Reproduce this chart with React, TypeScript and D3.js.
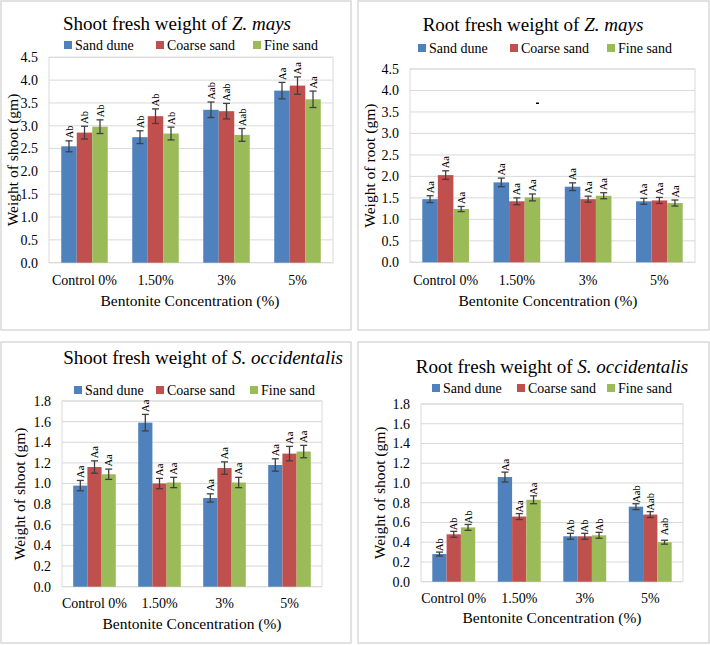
import React from "react";
import * as d3 from "d3";

const categories = ["Control 0%", "1.50%", "3%", "5%"];
const seriesNames = ["Sand dune", "Coarse sand", "Fine sand"];
const colors = ["#4F81BD", "#C0504D", "#9BBB59"];

// Panel 1: Shoot fresh weight of Z. mays
const zmShootSand = [2.55, 2.75, 3.35, 3.77];
const zmShootCoarse = [2.85, 3.21, 3.32, 3.88];
const zmShootFine = [2.98, 2.83, 2.8, 3.58];
const zmShootErr = [
  [0.12, 0.14, 0.17, 0.18],
  [0.14, 0.16, 0.17, 0.19],
  [0.15, 0.14, 0.14, 0.18],
];
const zmShootLabels = [
  ["Ab", "Ab", "Aab", "Aa"],
  ["Ab", "Ab", "Aab", "Aa"],
  ["Ab", "Ab", "Aab", "Aa"],
];

// Panel 2: Root fresh weight of Z. mays
const zmRootSand = [1.47, 1.86, 1.76, 1.42];
const zmRootCoarse = [2.03, 1.42, 1.47, 1.44];
const zmRootFine = [1.24, 1.51, 1.55, 1.38];
const zmRootErr = [
  [0.08, 0.1, 0.09, 0.07],
  [0.1, 0.08, 0.07, 0.07],
  [0.06, 0.08, 0.07, 0.07],
];
const zmRootLabels = [
  ["Aa", "Aa", "Aa", "Aa"],
  ["Aa", "Aa", "Aa", "Aa"],
  ["Aa", "Aa", "Aa", "Aa"],
];

// Panel 3: Shoot fresh weight of S. occidentalis
const soShootSand = [0.98, 1.59, 0.86, 1.18];
const soShootCoarse = [1.16, 1.0, 1.15, 1.29];
const soShootFine = [1.09, 1.01, 1.01, 1.31];
const soShootErr = [
  [0.05, 0.08, 0.04, 0.06],
  [0.06, 0.05, 0.06, 0.07],
  [0.05, 0.05, 0.05, 0.06],
];
const soShootLabels = [
  ["Aa", "Aa", "Aa", "Aa"],
  ["Aa", "Aa", "Aa", "Aa"],
  ["Aa", "Aa", "Aa", "Aa"],
];

// Panel 4: Root fresh weight of S. occidentalis
const soRootSand = [0.28, 1.06, 0.46, 0.76];
const soRootCoarse = [0.48, 0.66, 0.46, 0.68];
const soRootFine = [0.55, 0.83, 0.47, 0.4];
const soRootErr = [
  [0.02, 0.05, 0.03, 0.03],
  [0.03, 0.03, 0.03, 0.03],
  [0.03, 0.04, 0.03, 0.02],
];
const soRootLabels = [
  ["Ab", "Aa", "Ab", "Aab"],
  ["Ab", "Aa", "Ab", "Aab"],
  ["Ab", "Aa", "Ab", "Aab"],
];

const xTitle = "Bentonite Concentration (%)";
const FONT = "'Liberation Serif', 'Times New Roman', Times, serif";
const txt = { fontFamily: FONT };

type PanelProps = {
  frame: [number, number, number, number];
  plot: [number, number, number, number];
  yMax: number;
  yStep: number;
  titleA: string;
  titleB: string;
  titleX: number;
  titleY: number;
  legendY: number;
  legendX: number[];
  yTitle: string;
  yTitleX: number;
  xLabelY: number;
  xTitleX: number;
  xTitleY: number;
  series: number[][];
  errs: number[][];
  labels: string[][];
  labelGap?: number[][];
  extra?: React.ReactNode;
};

function Panel(p: PanelProps) {
  const [fx0, fy0, fx1, fy1] = p.frame;
  const [pl, pr, pt, pb] = p.plot;
  const y = d3.scaleLinear().domain([0, p.yMax]).range([pb, pt]);
  const x = d3.scaleBand().domain(categories).range([pl, pr]).padding(0);
  const groupW = x.bandwidth() * 0.655;
  const xi = d3.scaleBand().domain(seriesNames).range([0, groupW]).padding(0);
  const ticks = d3.range(0, p.yMax + 1e-9, p.yStep);
  const fmt = d3.format(".1f");
  return (
    <g>
      <rect x={fx0} y={fy0} width={fx1 - fx0} height={fy1 - fy0} fill="#fff" stroke="#d9d9d9" strokeWidth={1.5} />
      {ticks.map((t) => (
        <line key={"g" + t} x1={pl} x2={pr} y1={y(t)} y2={y(t)} stroke="#d9d9d9" strokeWidth={1} />
      ))}
      <rect x={pl} y={pt} width={pr - pl} height={pb - pt} fill="none" stroke="#d9d9d9" strokeWidth={1} />
      {ticks.map((t) => (
        <text key={"t" + t} x={pl - 11} y={y(t)} dy="0.35em" textAnchor="end" fontSize={14} style={txt} fill="#000">
          {fmt(t)}
        </text>
      ))}
      {p.series.map((vals, si) =>
        vals.map((v, ci) => {
          const bx = (x(categories[ci]) as number) + (x.bandwidth() - groupW) / 2 + (xi(seriesNames[si]) as number);
          const bw = xi.bandwidth();
          const cx = bx + bw / 2;
          const e = p.errs[si][ci];
          const top = y(v + e);
          const bot = y(v - e);
          const gap = p.labelGap ? p.labelGap[si][ci] : 2.5;
          return (
            <g key={si + "-" + ci}>
              <rect x={bx} y={y(v)} width={bw} height={pb - y(v)} fill={colors[si]} />
              <line x1={cx} x2={cx} y1={top} y2={bot} stroke="#404040" strokeWidth={1.3} />
              <line x1={cx - 3.5} x2={cx + 3.5} y1={top} y2={top} stroke="#404040" strokeWidth={1.3} />
              <line x1={cx - 3.5} x2={cx + 3.5} y1={bot} y2={bot} stroke="#404040" strokeWidth={1.3} />
              <text transform={`translate(${cx + 3.6},${top - gap}) rotate(-90)`} fontSize={10.5} style={txt} fill="#000">
                {p.labels[si][ci]}
              </text>
            </g>
          );
        })
      )}
      {categories.map((c) => (
        <text key={"c" + c} x={(x(c) as number) + x.bandwidth() / 2} y={p.xLabelY} dy="0.35em" textAnchor="middle" fontSize={14} style={txt}>
          {c}
        </text>
      ))}
      <text x={p.xTitleX} y={p.xTitleY} dy="0.35em" textAnchor="middle" fontSize={15.5} style={txt}>
        {xTitle}
      </text>
      <text transform={`translate(${p.yTitleX},${(pt + pb) / 2}) rotate(-90)`} dy="0.35em" textAnchor="middle" fontSize={15.5} style={txt}>
        {p.yTitle}
      </text>
      <text x={p.titleX} y={p.titleY} dy="0.35em" textAnchor="middle" fontSize={19} style={txt}>
        {p.titleA}
        <tspan fontStyle="italic">{p.titleB}</tspan>
      </text>
      {seriesNames.map((s, i) => (
        <g key={"l" + s}>
          <rect x={p.legendX[i]} y={p.legendY - 4} width={8} height={8} fill={colors[i]} />
          <text x={p.legendX[i] + 11} y={p.legendY} dy="0.35em" fontSize={14} style={txt}>
            {s}
          </text>
        </g>
      ))}
      {p.extra}
    </g>
  );
}

export default function App() {
  return (
    <div style={{ position: "absolute", left: 0, top: 0 }}>
      <svg width={710} height={645} style={{ display: "block", background: "#fff", fontFamily: FONT }}>
        <Panel
          frame={[1, 1, 351, 330]}
          plot={[49, 333, 57.3, 262.7]}
          yMax={4.5}
          yStep={0.5}
          titleA="Shoot fresh weight of "
          titleB="Z. mays"
          titleX={177}
          titleY={23}
          legendY={45}
          legendX={[64, 156, 253]}
          yTitle="Weight of shoot (gm)"
          yTitleX={13}
          xLabelY={280}
          xTitleX={190}
          xTitleY={301}
          series={[zmShootSand, zmShootCoarse, zmShootFine]}
          errs={zmShootErr}
          labels={zmShootLabels}
        />
        <Panel
          frame={[358, 1, 709, 330]}
          plot={[410, 695, 69, 262.3]}
          yMax={4.5}
          yStep={0.5}
          titleA="Root fresh weight of "
          titleB="Z. mays"
          titleX={533}
          titleY={24}
          legendY={48}
          legendX={[418, 510, 607]}
          yTitle="Weight of root (gm)"
          yTitleX={370}
          xLabelY={280}
          xTitleX={548}
          xTitleY={301}
          series={[zmRootSand, zmRootCoarse, zmRootFine]}
          errs={zmRootErr}
          labels={zmRootLabels}
          extra={<rect x={536} y={102.5} width={3} height={1.5} fill="#000" />}
        />
        <Panel
          frame={[1, 342, 351, 643]}
          plot={[62, 322, 401, 586.7]}
          yMax={1.8}
          yStep={0.2}
          titleA="Shoot fresh weight of "
          titleB="S. occidentalis"
          titleX={203}
          titleY={357}
          legendY={390}
          legendX={[74, 156, 250]}
          yTitle="Weight of shoot (gm)"
          yTitleX={20}
          xLabelY={603}
          xTitleX={192}
          xTitleY={624}
          series={[soShootSand, soShootCoarse, soShootFine]}
          errs={soShootErr}
          labels={soShootLabels}
        />
        <Panel
          frame={[358, 342, 709, 643]}
          plot={[421, 683, 404, 581.7]}
          yMax={1.8}
          yStep={0.2}
          titleA="Root fresh weight of "
          titleB="S. occidentalis"
          titleX={552}
          titleY={366}
          legendY={388}
          legendX={[432, 517, 607]}
          yTitle="Weight of shoot (gm)"
          yTitleX={380}
          xLabelY={598}
          xTitleX={552}
          xTitleY={618}
          series={[soRootSand, soRootCoarse, soRootFine]}
          errs={soRootErr}
          labels={soRootLabels}
          labelGap={[
            [1, 1, 1, 1],
            [1, 1, 1, 1],
            [1, 1, 1, 5],
          ]}
        />
      </svg>
    </div>
  );
}
